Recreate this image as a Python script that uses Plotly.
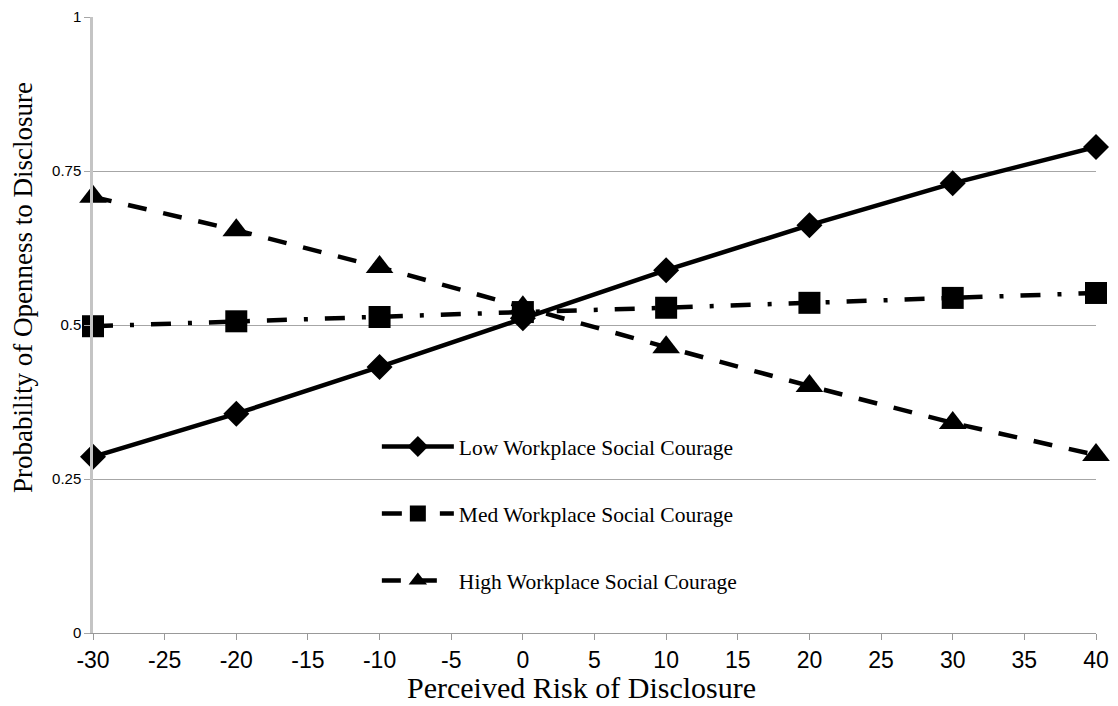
import plotly.graph_objects as go

risk = [-30, -20, -10, 0, 10, 20, 30, 40]
low_vals = [0.286, 0.356, 0.432, 0.511, 0.589, 0.662, 0.730, 0.789]
med_vals = [0.498, 0.506, 0.513, 0.521, 0.528, 0.536, 0.544, 0.552]
high_vals = [0.708, 0.654, 0.594, 0.529, 0.464, 0.401, 0.341, 0.289]
names = ["Low Workplace Social Courage", "Med Workplace Social Courage", "High Workplace Social Courage"]
x_ticks = list(range(-30, 41, 5))
y_ticks = [0, 0.25, 0.5, 0.75, 1]
y_tick_text = ["0", "0.25", "0.5", "0.75", "1"]
x_title = "Perceived Risk of Disclosure"
y_title = "Probability of Openness to Disclosure"

fig = go.Figure()
fig.add_trace(go.Scatter(x=risk, y=low_vals, name=names[0], legendgroup="a",
                         mode="lines+markers", cliponaxis=False,
                         line=dict(color="black", width=4.5),
                         marker=dict(symbol="diamond", size=20, color="black")))
fig.add_trace(go.Scatter(x=risk, y=med_vals, name=names[1], legendgroup="b",
                         mode="lines+markers", cliponaxis=False,
                         line=dict(color="black", width=4.5, dash="20px,17px,4px,17px"),
                         marker=dict(symbol="square", size=22, color="black")))
fig.add_trace(go.Scatter(x=risk, y=high_vals, name=names[2], legendgroup="c",
                         mode="lines+markers", cliponaxis=False,
                         line=dict(color="black", width=4.5, dash="19px,17px"),
                         marker=dict(symbol="triangle-up", size=24, color="black")))

# white panel behind the legend (covers the gridline like the original)
fig.add_shape(type="rect", xref="paper", yref="paper", x0=0.231, x1=0.697, y0=0.045, y1=0.338,
              fillcolor="white", line=dict(width=0), layer="between")

fig.add_annotation(text=x_title, xref="paper", yref="paper", x=0.4875, y=-0.0877,
                   xanchor="center", yanchor="middle", showarrow=False,
                   font=dict(family="Liberation Serif", size=30, color="black"))
fig.add_annotation(text=y_title, xref="paper", yref="paper", x=-0.0698, y=0.5617,
                   xanchor="center", yanchor="middle", showarrow=False, textangle=-90,
                   font=dict(family="Liberation Serif", size=27, color="black"))

fig.update_layout(
    width=1110, height=698,
    margin=dict(l=85, r=22, t=9, b=73),
    paper_bgcolor="white", plot_bgcolor="white",
    showlegend=True,
    legend=dict(x=0.283, y=0.336, xanchor="left", yanchor="top",
                bgcolor="rgba(0,0,0,0)", itemwidth=72, tracegroupgap=36,
                font=dict(family="Liberation Serif", size=21.5, color="black")),
    xaxis=dict(range=[-30, 40], tickvals=x_ticks, ticktext=[str(v) for v in x_ticks],
               automargin=False,
               showgrid=False, zeroline=False, showline=True, linecolor="#999999", linewidth=1,
               ticks="outside", ticklen=6, tickcolor="#999999",
               tickfont=dict(family="Liberation Sans", size=23, color="black")),
    yaxis=dict(range=[0, 1], tickvals=y_ticks, ticktext=y_tick_text,
               automargin=False,
               showgrid=True, gridcolor="#a6a6a6", gridwidth=1, zeroline=False,
               showline=True, linecolor="#c4c4c4", linewidth=2.5,
               ticks="outside", ticklen=6, tickcolor="#a6a6a6",
               tickfont=dict(family="Liberation Sans", size=15, color="black")),
)
fig.write_html("out.html")
